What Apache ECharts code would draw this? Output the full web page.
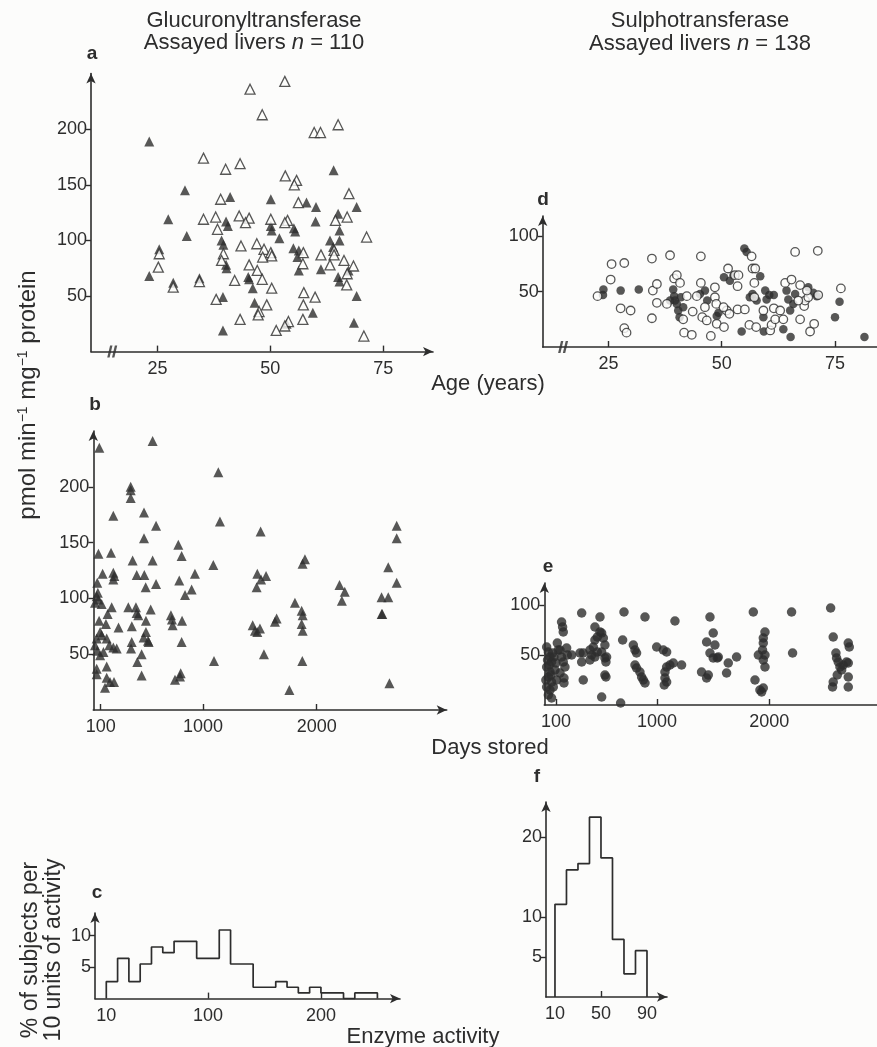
<!DOCTYPE html>
<html><head><meta charset="utf-8">
<script src="https://cdn.jsdelivr.net/npm/echarts@6/dist/echarts.min.js"></script>
<style>html,body{margin:0;padding:0;background:#fcfcfb}#c{width:877px;height:1047px}</style>
</head><body><div id="c"></div>
<script>
// ---------- tick labels ----------
const ageTicks = [25, 50, 75];
const dayTicks = [100, 1000, 2000];
const enzGlucTicks = [10, 100, 200];
const enzSulfTicks = [10, 50, 90];
const glucYTicks = [50, 100, 150, 200];
const sulfYTicks = [50, 100];
const histCYTicks = [5, 10];
const histFYTicks = [5, 10, 20];
const axisBreakAge = 15;

// ---------- panel a: glucuronyltransferase vs age [age, pmol/min/mg] ----------
const glucAgeFilled = [[23.2,189],[23.2,68],[25.4,92],[27.4,119],[31.1,145],[31.5,104],[41.1,139],[50.1,137],[58.0,134],[60.1,130],[69.1,130],[64.0,163],[65.0,124],[40.2,117],[40.6,113],[50.1,113],[50.3,109],[55.2,111],[55.5,108],[60.0,117],[65.3,109],[52.0,102],[39.2,100],[39.6,96],[63.2,100],[65.3,100],[55.1,93],[63.9,94],[56.3,91],[56.0,85],[40.2,78],[40.3,75],[56.3,73],[61.2,74],[67.3,73],[45.1,67],[45.3,65],[34.3,66],[28.5,62],[65.0,67],[65.3,63],[46.1,57],[39.5,49],[69.1,50],[46.5,44],[59.4,35],[53.6,25],[68.5,26],[39.5,19]];
const glucAgeOpen = [[53.2,243],[45.5,236],[48.2,213],[59.7,197],[61.1,197],[65.0,204],[35.2,174],[43.3,169],[40.1,164],[53.3,158],[55.8,154],[55.3,150],[67.4,142],[39.0,137],[56.2,134],[35.2,119],[37.9,121],[43.1,122],[45.3,120],[44.5,116],[50.1,119],[53.8,118],[53.2,116],[67.0,121],[64.4,118],[38.3,110],[71.3,103],[43.5,95],[47.0,97],[25.4,88],[48.6,92],[50.1,89],[50.3,86],[64.1,91],[39.6,88],[57.3,89],[48.3,85],[61.2,87],[57.2,79],[64.1,87],[39.2,82],[66.3,82],[45.3,78],[63.2,78],[68.4,77],[25.2,76],[47.1,73],[67.0,70],[42.1,64],[48.2,65],[34.3,63],[28.5,58],[66.9,60],[57.4,53],[50.3,57],[38.0,47],[59.9,49],[57.3,42],[49.2,42],[47.5,36],[47.3,33],[43.3,29],[57.2,29],[54.0,27],[53.2,23],[51.3,19],[70.7,14]];

// ---------- panel d: sulphotransferase vs age ----------
const sulfAgeFilled = [[23.8,47],[23.9,52],[27.7,51],[31.7,52],[39.3,52],[39.5,46],[39.7,42],[40.1,39],[40.4,33],[40.7,27],[41.5,36],[38.6,42],[41.0,45],[46.3,51],[46.8,42],[45.2,48],[48.9,28],[49.3,31],[50.5,63],[51.8,60],[52.6,65],[55.0,89],[55.5,86],[56.2,45],[56.8,48],[57.7,42],[58.5,64],[59.2,27],[59.6,51],[59.9,43],[60.5,47],[61.5,47],[59.3,14],[54.4,14],[63.6,16],[64.3,51],[64.7,43],[65.1,33],[65.8,39],[66.2,48],[65.2,9],[69.1,54],[70.2,49],[71.0,46],[75.0,27],[76.0,41],[81.5,9]];
const sulfAgeOpen = [[22.6,46],[25.5,61],[25.7,75],[28.5,76],[27.7,35],[29.9,33],[28.5,17],[29.0,13],[34.6,80],[34.8,51],[34.6,26],[35.7,57],[35.7,40],[38.6,83],[39.5,62],[40.1,65],[40.8,58],[37.9,39],[41.7,13],[43.4,11],[41.5,25],[43.6,32],[44.5,46],[45.4,82],[45.4,58],[45.7,27],[46.7,24],[47.6,10],[48.5,54],[48.5,45],[48.8,39],[48.9,21],[50.5,18],[51.4,71],[52.9,65],[53.5,55],[51.1,33],[51.7,30],[53.7,65],[53.5,34],[55.1,34],[56.6,82],[56.8,71],[57.4,71],[57.2,58],[56.1,20],[57.6,18],[57.2,45],[59.2,33],[60.7,15],[61.0,20],[61.5,35],[61.8,25],[63.6,25],[64.0,58],[65.4,61],[66.2,86],[67.3,56],[67.3,25],[68.2,37],[68.4,42],[69.1,45],[69.5,14],[70.4,21],[71.2,87],[71.3,47],[76.3,53],[42.3,46],[46.3,36],[50.4,36],[62.9,33],[66.9,42],[68.8,51]];

// ---------- panel b: glucuronyltransferase vs days stored ----------
const glucDays = [[88,235],[557,241],[364,200],[364,197],[364,190],[1135,213],[481,177],[211,174],[1149,169],[587,165],[2704,165],[1507,160],[481,154],[2704,154],[783,148],[80,140],[191,141],[812,138],[381,134],[557,134],[1897,135],[1876,131],[1091,130],[2630,128],[117,122],[211,123],[220,120],[211,117],[417,121],[484,121],[929,122],[1478,122],[1555,120],[1511,117],[791,116],[1472,110],[496,110],[587,113],[2704,114],[2201,112],[900,108],[842,103],[2247,106],[2222,98],[70,114],[75,105],[80,99],[65,102],[2571,101],[2630,101],[1809,96],[2577,86],
[50,96],[108,95],[197,92],[343,92],[410,92],[416,87],[431,85],[540,90],[161,86],[86,80],[146,77],[257,74],[374,75],[498,80],[498,70],[516,62],[478,65],[522,61],[718,85],[727,81],[733,76],[816,80],[812,61],[373,61],[367,55],[95,70],[65,64],[109,67],[50,58],[71,53],[124,52],[95,49],[153,64],[176,58],[211,56],[241,55],[422,43],[460,50],[460,31],[754,27],[798,30],[804,33],[1097,44],[65,37],[153,39],[65,32],[153,29],[138,20],[182,25],[217,25],[1437,76],[1478,70],[1501,73],[1457,71],[1633,79],[1648,82],[1536,50],[1868,89],[1877,85],[1868,77],[1877,71],[1874,44],[1760,18],[2572,86],[2640,24]];

// ---------- panel e: sulphotransferase vs days stored ----------
const sulfDays = [[17,58],[32,53],[47,48],[61,43],[17,38],[47,33],[32,28],[61,23],[17,18],[47,15],[32,10],[61,7],[82,48],[91,35],[106,25],[76,18],[25,45],[40,40],[55,30],[70,52],[10,25],[100,42],[120,55],[112,62],
[150,83],[159,78],[165,73],[136,55],[150,48],[165,43],[180,38],[136,32],[171,27],[171,22],[195,57],[201,50],[240,50],
[329,92],[314,52],[329,43],[343,52],[343,25],
[403,55],[433,58],[447,65],[418,50],[447,48],[468,53],[403,45],
[447,78],[468,68],[492,73],[507,72],[522,67],[536,60],[507,53],[536,47],[551,48],[545,43],
[492,88],[536,30],[545,28],[507,8],
[706,93],[694,65],[676,2],
[789,60],[804,55],[818,52],[804,40],[818,37],[848,33],[863,28],[878,25],[893,22],[893,88],
[997,58],[1056,55],[1086,53],[1071,33],[1086,38],[1115,40],[1145,42],[1071,27],[1086,23],[1065,20],
[1160,84],[1219,40],
[1397,33],[1442,27],[1457,30],[1472,88],
[1442,63],[1501,72],[1516,60],[1472,52],[1537,47],[1501,47],[1546,48],
[1635,42],[1620,32],[1709,48],
[1858,93],[1873,25],[1917,15],[1932,13],[1947,17],
[1962,73],[1947,67],[1947,62],[1940,55],[1962,50],[1947,45],[1962,38],[1903,50],
[2199,93],[2208,52],
[2547,97],[2570,68],[2594,52],[2600,47],[2615,43],[2630,38],[2645,35],[2659,40],[2689,43],[2704,42],[2606,30],[2570,23],[2564,18],[2704,62],[2713,58],[2704,28],[2704,18]];

// ---------- histograms: % of subjects per 10 units of activity ----------
const glucBinStart = 10, glucBinWidth = 10;
const glucHistPct = [2.7,6.4,2.7,5.5,8.2,7.3,9.1,9.1,6.4,6.4,10.9,5.5,5.5,1.8,1.8,2.7,1.8,0.9,1.8,0.9,0.9,0,0.9,0.9];
const sulfBinStart = 10, sulfBinWidth = 10;
const sulfHistPct = [11.6,15.9,16.7,22.5,17.4,7.2,2.9,5.8];

// ---------- build ----------
const INK = '#2d2d2d';
const FONT = '"Liberation Sans", Arial, Helvetica, sans-serif';

function histOutline(start, width, vals) {
  const pts = [[start, 0]];
  vals.forEach((v, i) => { pts.push([start + i * width, v]); pts.push([start + (i + 1) * width, v]); });
  pts.push([start + vals.length * width, 0]);
  return pts;
}
const plain = v => String(v);

function xAx(g, min, max, labels, ticks, arrow) {
  return { type: 'value', gridIndex: g, min: min, max: max, splitLine: { show: false },
    axisLine: { show: true, onZero: false, symbol: arrow ? ['none', 'arrow'] : 'none', symbolSize: [7, 10], lineStyle: { color: INK, width: 1.6 } },
    axisTick: { show: true, inside: true, length: 6, customValues: ticks, lineStyle: { color: INK, width: 1.4 } },
    axisLabel: { show: true, customValues: labels, formatter: plain, color: INK, fontSize: 18, fontFamily: FONT, margin: 8 } };
}
function yAx(g, min, max, labels) {
  return { type: 'value', gridIndex: g, min: min, max: max, splitLine: { show: false },
    axisLine: { show: true, onZero: false, symbol: ['none', 'arrow'], symbolSize: [7, 10], lineStyle: { color: INK, width: 1.6 } },
    axisTick: { show: true, inside: false, length: 5, customValues: labels, lineStyle: { color: INK, width: 1.4 } },
    axisLabel: { show: true, customValues: labels, formatter: plain, color: INK, fontSize: 18, fontFamily: FONT, margin: 4 } };
}

const breakPath = 'path://M0,12 L3,0 L5.5,0 L2.5,12 Z M5,12 L8,0 L10.5,0 L7.5,12 Z';

const option = {
  backgroundColor: '#fcfcfb',
  animation: false,
  grid: [
    { left: 91, top: 73.6, width: 342, height: 278, containLabel: false },     // a
    { left: 542.7, top: 216, width: 334, height: 131, containLabel: false },   // d
    { left: 93.3, top: 431, width: 353.4, height: 279, containLabel: false },  // b
    { left: 544.3, top: 583, width: 332.7, height: 122, containLabel: false }, // e
    { left: 95, top: 913, width: 305, height: 85.6, containLabel: false },     // c
    { left: 546, top: 802, width: 121, height: 195, containLabel: false }      // f
  ],
  xAxis: [
    xAx(0, 10.3, 86, ageTicks, ageTicks, true),
    xAx(1, 10.5, 84.2, ageTicks, ageTicks, false),
    xAx(2, 35, 3144, dayTicks, dayTicks, true),
    xAx(3, -4, 2960, dayTicks, dayTicks, false),
    xAx(4, 0, 270, enzGlucTicks, [100, 200], true),
    xAx(5, 2.2, 107.4, enzSulfTicks, [50], true)
  ],
  yAxis: [
    yAx(0, 0, 250, glucYTicks),
    yAx(1, 0, 118.5, sulfYTicks),
    yAx(2, 0, 250, glucYTicks),
    yAx(3, 0, 122, sulfYTicks),
    yAx(4, 0, 13.6, histCYTicks),
    yAx(5, 0, 24.4, histFYTicks)
  ],
  series: [
    { type: 'scatter', xAxisIndex: 0, yAxisIndex: 0, data: glucAgeFilled, symbol: 'triangle', symbolSize: 10, itemStyle: { color: INK } },
    { type: 'scatter', xAxisIndex: 0, yAxisIndex: 0, data: glucAgeOpen, symbol: 'triangle', symbolSize: 10, itemStyle: { color: '#fcfcfb', borderColor: INK, borderWidth: 1.3 } },
    { type: 'scatter', xAxisIndex: 1, yAxisIndex: 1, data: sulfAgeFilled, symbol: 'circle', symbolSize: 8.5, itemStyle: { color: INK } },
    { type: 'scatter', xAxisIndex: 1, yAxisIndex: 1, data: sulfAgeOpen, symbol: 'circle', symbolSize: 8.5, itemStyle: { color: '#fcfcfb', borderColor: INK, borderWidth: 1.3 } },
    { type: 'scatter', xAxisIndex: 2, yAxisIndex: 2, data: glucDays, symbol: 'triangle', symbolSize: 10, itemStyle: { color: INK } },
    { type: 'scatter', xAxisIndex: 3, yAxisIndex: 3, data: sulfDays, symbol: 'circle', symbolSize: 9.5, itemStyle: { color: INK } },
    { type: 'line', xAxisIndex: 4, yAxisIndex: 4, data: histOutline(glucBinStart, glucBinWidth, glucHistPct), showSymbol: false, lineStyle: { color: INK, width: 1.7 }, z: 1 },
    { type: 'line', xAxisIndex: 5, yAxisIndex: 5, data: histOutline(sulfBinStart, sulfBinWidth, sulfHistPct), showSymbol: false, lineStyle: { color: INK, width: 1.7 }, z: 1 },
    { type: 'scatter', xAxisIndex: 0, yAxisIndex: 0, data: [[axisBreakAge, 0]], symbol: breakPath, symbolSize: [10, 12], clip: false, itemStyle: { color: INK }, z: 10 },
    { type: 'scatter', xAxisIndex: 1, yAxisIndex: 1, data: [[axisBreakAge, 0]], symbol: breakPath, symbolSize: [10, 12], clip: false, itemStyle: { color: INK }, z: 10 }
  ],
  graphic: [
    { type: 'text', x: 254, y: 21, style: { text: 'Glucuronyltransferase', font: '22px ' + FONT, fill: INK, align: 'center', verticalAlign: 'middle' } },
    { type: 'text', x: 254, y: 43, style: { text: 'Assayed livers {i|n} = 110', rich: { i: { fontStyle: 'italic', fontSize: 22, fontFamily: FONT } }, font: '22px ' + FONT, fill: INK, align: 'center', verticalAlign: 'middle' } },
    { type: 'text', x: 700, y: 21, style: { text: 'Sulphotransferase', font: '22px ' + FONT, fill: INK, align: 'center', verticalAlign: 'middle' } },
    { type: 'text', x: 700, y: 44, style: { text: 'Assayed livers {i|n} = 138', rich: { i: { fontStyle: 'italic', fontSize: 22, fontFamily: FONT } }, font: '22px ' + FONT, fill: INK, align: 'center', verticalAlign: 'middle' } },
    { type: 'text', x: 92, y: 54, style: { text: 'a', font: 'bold 19px ' + FONT, fill: INK, align: 'center', verticalAlign: 'middle' } },
    { type: 'text', x: 543, y: 200, style: { text: 'd', font: 'bold 19px ' + FONT, fill: INK, align: 'center', verticalAlign: 'middle' } },
    { type: 'text', x: 95, y: 405, style: { text: 'b', font: 'bold 19px ' + FONT, fill: INK, align: 'center', verticalAlign: 'middle' } },
    { type: 'text', x: 548, y: 567, style: { text: 'e', font: 'bold 19px ' + FONT, fill: INK, align: 'center', verticalAlign: 'middle' } },
    { type: 'text', x: 97, y: 893, style: { text: 'c', font: 'bold 19px ' + FONT, fill: INK, align: 'center', verticalAlign: 'middle' } },
    { type: 'text', x: 537, y: 777, style: { text: 'f', font: 'bold 19px ' + FONT, fill: INK, align: 'center', verticalAlign: 'middle' } },
    { type: 'text', x: 488, y: 384, style: { text: 'Age (years)', font: '22px ' + FONT, fill: INK, align: 'center', verticalAlign: 'middle' } },
    { type: 'text', x: 490, y: 748, style: { text: 'Days stored', font: '22px ' + FONT, fill: INK, align: 'center', verticalAlign: 'middle' } },
    { type: 'text', x: 423, y: 1037, style: { text: 'Enzyme activity', font: '22px ' + FONT, fill: INK, align: 'center', verticalAlign: 'middle' } },
    { type: 'text', x: 28, y: 395, rotation: Math.PI / 2, style: { text: 'pmol min{s|−1} mg{s|−1} protein', rich: { s: { fontSize: 14, fontFamily: FONT, verticalAlign: 'top', padding: [0, 0, 9, 0] } }, font: '24px ' + FONT, fill: INK, align: 'center', verticalAlign: 'middle' } },
    { type: 'text', x: 42, y: 950, rotation: Math.PI / 2, style: { text: '% of subjects per\n10 units of activity', font: '23px ' + FONT, lineHeight: 23, fill: INK, align: 'center', verticalAlign: 'middle' } }
  ]
};

const chart = echarts.init(document.getElementById('c'), null, { renderer: 'canvas' });
chart.setOption(option);
</script>
</body></html>
